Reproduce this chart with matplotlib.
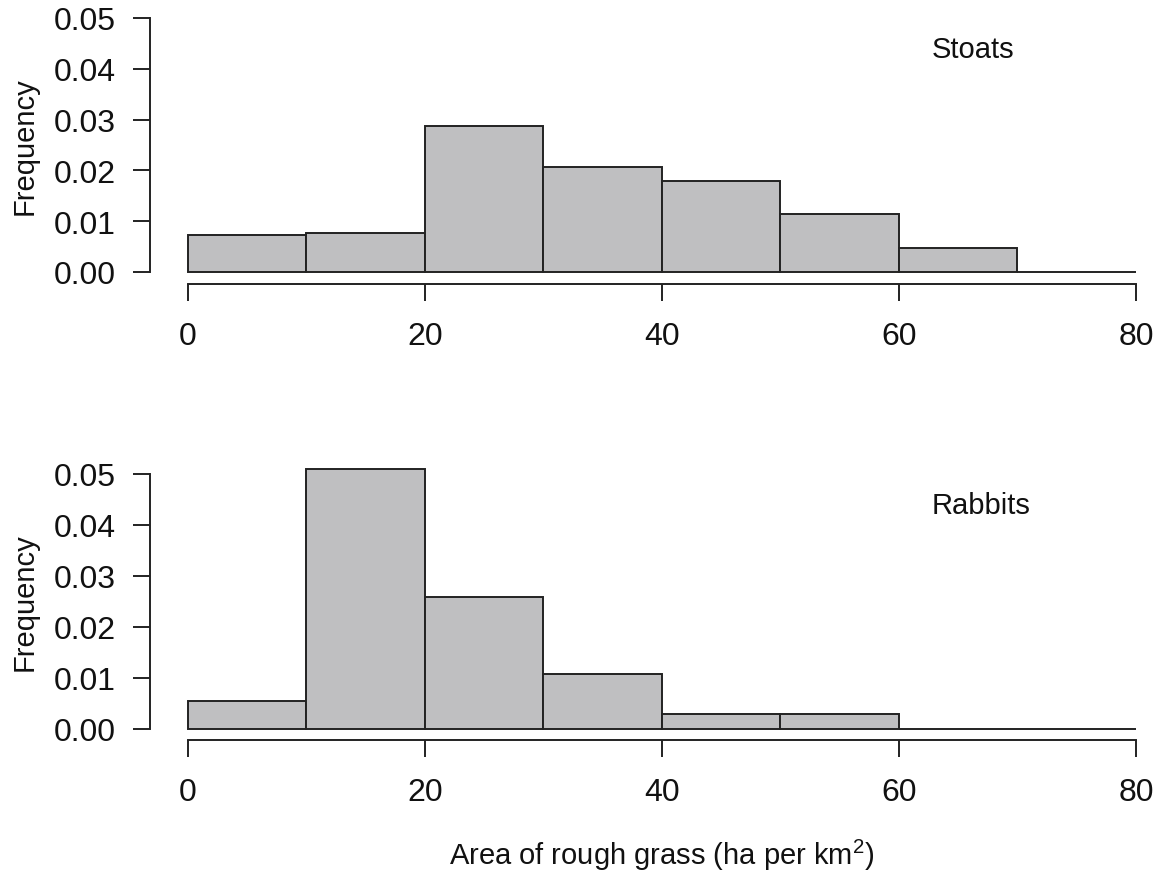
import matplotlib
matplotlib.use("Agg")
import matplotlib.pyplot as plt

plt.rcParams['font.family'] = ['Liberation Sans', 'DejaVu Sans']
plt.rcParams['mathtext.fontset'] = 'custom'
plt.rcParams['mathtext.rm'] = 'Liberation Sans'

# Histogram bins (ha of rough grass per km^2) and density per bin
bin_edges = [0, 10, 20, 30, 40, 50, 60, 70, 80]
stoats_density = [0.0073, 0.0076, 0.0288, 0.0206, 0.0180, 0.0114, 0.0047, 0.0]
rabbits_density = [0.0055, 0.0510, 0.0259, 0.0107, 0.0029, 0.0029, 0.0, 0.0]
panel_labels = ["Stoats", "Rabbits"]
x_ticks = [0, 20, 40, 60, 80]
y_ticks = [0.00, 0.01, 0.02, 0.03, 0.04, 0.05]
x_title = r"Area of rough grass (ha per km$^{\mathrm{2}}$)"

W, H = 1158, 879
fig = plt.figure(figsize=(W / 100, H / 100), dpi=100)

bar_fill = "#BFBFC1"
edge_col = "#222222"
tick_fs = 23
label_fs = 21


def style_axes(ax):
    ax.set_xlim(-3.2, 81.86)
    ax.spines['top'].set_visible(False)
    ax.spines['right'].set_visible(False)
    ax.spines['left'].set_bounds(0, 0.05)
    ax.spines['bottom'].set_bounds(0, 80)
    for s in ('left', 'bottom'):
        ax.spines[s].set_linewidth(1.4)
        ax.spines[s].set_color(edge_col)
    ax.set_xticks(x_ticks)
    ax.set_xticklabels([str(t) for t in x_ticks])
    ax.set_yticks(y_ticks)
    ax.set_yticklabels([f"{t:.2f}" for t in y_ticks])
    ax.tick_params(axis='both', direction='out', length=12.5, width=1.4,
                   color=edge_col, labelsize=tick_fs, labelcolor='#111111')
    ax.tick_params(axis='y', pad=12)
    ax.tick_params(axis='x', pad=14)
    ax.patch.set_visible(False)


panels = [
    (stoats_density, (0.6758, 0.3148), (-0.00236, 0.0521), 146.0),
    (rabbits_density, (0.157, 0.3148), (-0.00216, 0.0521), 602.5),
]

for (dens, (bot, hgt), ylim, ylab_px), name in zip(panels, panel_labels):
    ax = fig.add_axes([150 / W, bot, 1 - 150 / W, hgt])
    ax.bar(bin_edges[:-1], dens, width=10, align='edge',
           color=bar_fill, edgecolor=edge_col, linewidth=1.4)
    ax.set_ylim(*ylim)
    style_axes(ax)
    ax.text(62.75, 0.0439, name, ha='left', va='center',
            fontsize=label_fs, color='#111111')
    fig.text(25 / W, 1 - ylab_px / H, "Frequency", rotation=90,
             ha='center', va='center', fontsize=label_fs, color='#111111')

fig.text(662 / W, 1 - 855 / H, x_title, ha='center', va='center',
         fontsize=label_fs, color='#111111')

fig.savefig("out.png", dpi=100)
